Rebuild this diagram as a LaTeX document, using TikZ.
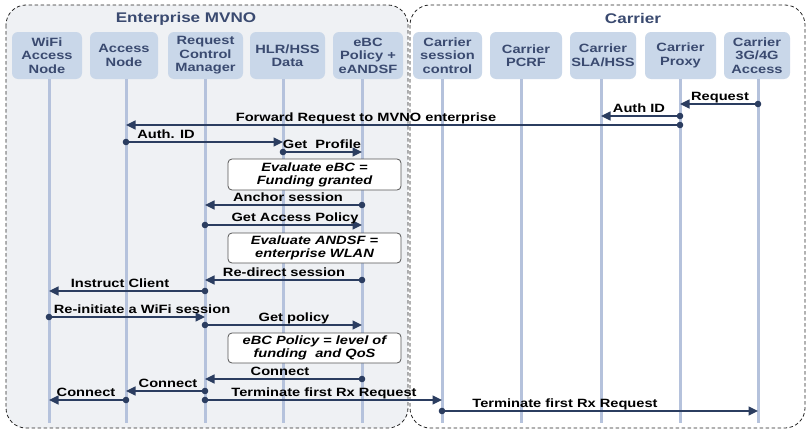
\documentclass[tikz,border=0pt]{standalone}
\usepackage{fontspec}
\usetikzlibrary{arrows.meta}
\newfontfamily\sfx[FakeStretch=1.22]{Liberation Sans}
\definecolor{leftbg}{HTML}{EFF1F4}
\definecolor{hdrfill}{HTML}{C9D7E9}
\definecolor{hdrtext}{HTML}{3A4A70}
\definecolor{lifec}{HTML}{B5C2DC}
\definecolor{navy}{HTML}{2B3D60}
\definecolor{notedraw}{HTML}{555555}
% #1 name, #2 from lifeline, #3 to lifeline, #4 y, #5 label x, #6 label
\newcommand{\msgline}[6]{%
  \draw[msg] (#2 |- 0,#4) -- (#3 |- 0,#4);
  \fill[navy] (#2 |- 0,#4) circle (3.3);
  \node[lab] (#1) at (#5,#4-4) {#6};}
\begin{document}
\begin{tikzpicture}[x=1pt,y=-1pt,
  grp/.style={draw=black!85, dash pattern=on 3.5pt off 2.5pt, line width=0.8pt, rounded corners=20pt},
  hdr/.style={fill=hdrfill, rounded corners=6pt, minimum width=#1, minimum height=47pt, align=center, text=hdrtext, font=\sfx\bfseries\fontsize{12}{13.5}\selectfont, inner sep=0pt},
  title/.style={text=hdrtext, font=\sfx\bfseries\fontsize{14}{16}\selectfont, inner sep=0pt},
  life/.style={draw=lifec, line width=3pt},
  msg/.style={draw=navy, line width=1.4pt, -{Triangle[length=9.5pt,width=9pt]}},
  lab/.style={anchor=base, inner sep=0pt, font=\sfx\bfseries\fontsize{12}{13}\selectfont},
  note/.style={draw=notedraw, fill=white, rounded corners=4pt, line width=0.8pt, minimum width=173pt, align=center, inner sep=0pt, font=\sfx\bfseries\itshape\fontsize{12}{13}\selectfont}
]
\useasboundingbox (0,0) rectangle (807,431);
% groups
\draw[grp, fill=leftbg] (6,5) rectangle (408,428);
\draw[grp, fill=white] (410,5) rectangle (805,428);
\node[title] (tEnt) at (186,19) {Enterprise MVNO};
\node[title] (tCar) at (633,18) {Carrier};
% headers
\node[hdr=70pt] (h1) at (47,55.5) {WiFi\\Access\\Node};
\node[hdr=68pt] (h2) at (124,55.5) {Access\\Node};
\node[hdr=75pt] (h3) at (205.5,55.5) {Request\\Control\\Manager};
\node[hdr=75pt] (h4) at (287.5,55.5) {HLR/HSS\\Data};
\node[hdr=70pt] (h5) at (368,55.5) {eBC\\Policy +\\eANDSF};
\node[hdr=69pt] (h6) at (447.5,55.5) {Carrier\\session\\control};
\node[hdr=72pt] (h7) at (526,55.5) {Carrier\\PCRF};
\node[hdr=66pt] (h8) at (603,55.5) {Carrier\\SLA/HSS};
\node[hdr=71pt] (h9) at (680.5,55.5) {Carrier\\Proxy};
\node[hdr=66pt] (h10) at (757,55.5) {Carrier\\3G/4G\\Access};
% lifelines
\coordinate (l1) at (49,79);
\coordinate (l2) at (126,79);
\coordinate (l3) at (205,79);
\coordinate (l4) at (283,79);
\coordinate (l5) at (362,79);
\coordinate (l6) at (442,79);
\coordinate (l7) at (521,79);
\coordinate (l8) at (601,79);
\coordinate (l9) at (680,79);
\coordinate (l10) at (758,79);
\foreach \i in {1,...,10} {\draw[life] (l\i) -- (l\i |- 0,423);}
% notes
\node[note, minimum height=31pt] (n1) at (314.5,174.5) {Evaluate eBC =\\Funding granted};
\node[note, minimum height=30pt] (n2) at (314.5,248) {Evaluate ANDSF =\\enterprise WLAN};
\node[note, minimum height=30pt] (n3) at (314.5,348) {eBC Policy = level of\\funding\ \ and QoS};
% messages
\msgline{m1}{l10}{l9}{104}{720}{Request}
\msgline{m2}{l9}{l8}{116}{639}{Auth ID}
\msgline{m3}{l9}{l2}{125}{366}{Forward Request to MVNO enterprise}
\msgline{m4}{l2}{l4}{142}{166}{Auth. ID}
\msgline{m5}{l4}{l5}{152}{322}{Get\ \ Profile}
\msgline{m6}{l5}{l3}{205}{288}{Anchor session}
\msgline{m7}{l3}{l5}{225}{295}{Get Access Policy}
\msgline{m8}{l5}{l3}{280}{284}{Re-direct session}
\msgline{m9}{l3}{l1}{291}{120}{Instruct Client}
\msgline{m10}{l1}{l3}{317}{142}{Re-initiate a WiFi session}
\msgline{m11}{l3}{l5}{325}{294}{Get policy}
\msgline{m12}{l5}{l3}{379}{280}{Connect}
\msgline{m13}{l3}{l2}{391}{168}{Connect}
\msgline{m14}{l2}{l1}{400}{86}{Connect}
\msgline{m15}{l3}{l6}{400}{324}{Terminate first Rx Request}
\msgline{m16}{l6}{l10}{411}{565}{Terminate first Rx Request}
\end{tikzpicture}
\end{document}
